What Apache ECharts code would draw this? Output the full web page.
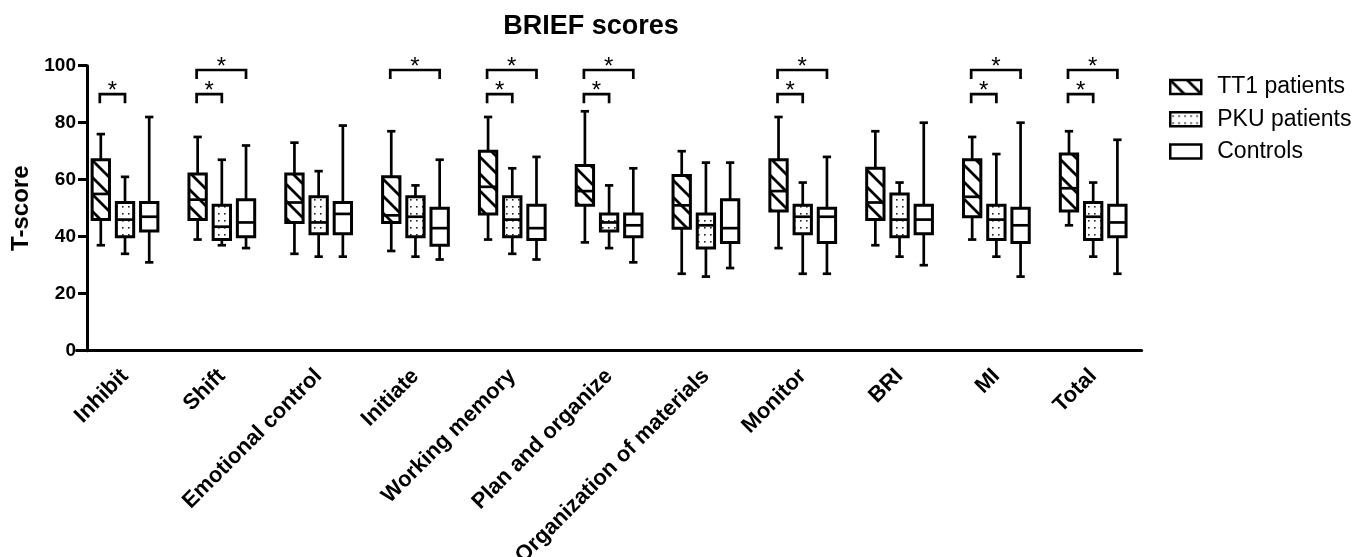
<!DOCTYPE html>
<html><head><meta charset="utf-8">
<script src="https://cdn.jsdelivr.net/npm/echarts@6/dist/echarts.min.js"></script>
<style>html,body{margin:0;padding:0;background:#fff}#c{width:1367px;height:557px}</style>
</head><body><div id="c"></div>
<script>
const categories = ['Inhibit','Shift','Emotional control','Initiate','Working memory','Plan and organize','Organization of materials','Monitor','BRI','MI','Total'];
const seriesNames = ['TT1 patients','PKU patients','Controls'];
// [min, Q1, median, Q3, max]
const tt1 = [[37,46,55,67,76],[39,46,53,62,75],[34,45,52,62,73],[35,45,47.5,61,77],[39,48,57.5,70,82],[38,51,56,65,84],[27,43,51,61.5,70],[36,49,56,67,82],[37,46,52,64,77],[39,47,54,67,75],[44,49,57,69,77]];
const pku = [[34,40,46,52,61],[37,39,43.5,51,67],[33,41,45,54,63],[33,40,47,54,58],[34,40,46,54,64],[36,42,45,48,58],[26,36,44,48,66],[27,41,47,51,59],[33,40,46,55,59],[33,39,46,51,69],[33,39,47,52,59]];
const controls = [[31,42,47,52,82],[36,40,45,53,72],[33,41,48,52,79],[32,37,43,50,67],[32,39,43,51,68],[31,40,44,48,64],[29,38,43,53,66],[27,38,47,50,68],[30,41,46,51,80],[26,38,44,50,80],[27,40,45,51,74]];
// significance brackets: [category index, from group, to group, level]
const brackets = [[0,0,1,0],[1,0,1,0],[1,0,2,1],[3,0,2,1],[4,0,1,0],[4,0,2,1],[5,0,1,0],[5,0,2,1],[7,0,1,0],[7,0,2,1],[9,0,1,0],[9,0,2,1],[10,0,1,0],[10,0,2,1]];
const bracketLevels = [90, 98.5];

const FONT = "'Liberation Sans', Arial, Helvetica, sans-serif";

function hatchPattern() {
  const s = 17, c = document.createElement('canvas');
  c.width = s; c.height = s;
  const g = c.getContext('2d');
  g.fillStyle = '#fff'; g.fillRect(0,0,s,s);
  g.strokeStyle = '#000'; g.lineWidth = 2.8;
  g.beginPath();
  g.moveTo(-3,-3); g.lineTo(s+3,s+3);
  g.moveTo(-3,s-3); g.lineTo(3,s+3);
  g.moveTo(s-3,-3); g.lineTo(s+3,3);
  g.stroke();
  return {image: c, repeat: 'repeat'};
}
function dotPattern() {
  const c = document.createElement('canvas');
  c.width = 6; c.height = 7;
  const g = c.getContext('2d');
  g.fillStyle = '#fff'; g.fillRect(0,0,6,7);
  g.fillStyle = '#222'; g.fillRect(2,3,1.6,1.6);
  return {image: c, repeat: 'repeat'};
}
const fills = [hatchPattern(), dotPattern(), '#fff'];

function boxSeries(name, data, gi) {
  return {
    type: 'custom', name: name,
    data: data.map((d, i) => [i].concat(d)),
    encode: {x: 0, y: [1,2,3,4,5]},
    itemStyle: {color: fills[gi], borderColor: '#000', borderWidth: 3},
    renderItem: function (params, api) {
      const cat = api.value(0);
      const band = api.size([1, 0])[0];
      const cx = api.coord([cat, 0])[0] + (gi - 1) * band * 0.25;
      const y = k => api.coord([cat, api.value(k)])[1];
      const yMin = y(1), yQ1 = y(2), yMed = y(3), yQ3 = y(4), yMax = y(5);
      const w = band * 0.179, cap = band * 0.086;
      const ls = {stroke: '#000', lineWidth: 2.7};
      return {type: 'group', children: [
        {type: 'line', shape: {x1: cx, y1: yQ3, x2: cx, y2: yMax}, style: ls},
        {type: 'line', shape: {x1: cx, y1: yQ1, x2: cx, y2: yMin}, style: ls},
        {type: 'line', shape: {x1: cx - cap/2, y1: yMax, x2: cx + cap/2, y2: yMax}, style: ls},
        {type: 'line', shape: {x1: cx - cap/2, y1: yMin, x2: cx + cap/2, y2: yMin}, style: ls},
        {type: 'rect', shape: {x: cx - w/2, y: yQ3, width: w, height: yQ1 - yQ3}, style: {fill: fills[gi], stroke: '#000', lineWidth: 3}},
        {type: 'line', shape: {x1: cx - w/2, y1: yMed, x2: cx + w/2, y2: yMed}, style: {stroke: '#000', lineWidth: 2.7}}
      ]};
    }
  };
}

const bracketSeries = {
  type: 'custom', name: 'sig', silent: true,
  data: brackets,
  encode: {x: 0},
  renderItem: function (params, api) {
    const cat = api.value(0), g1 = api.value(1), g2 = api.value(2), lv = api.value(3);
    const band = api.size([1, 0])[0];
    const p = api.coord([cat, bracketLevels[lv]]);
    const x1 = p[0] + (g1 - 1) * band * 0.25 - 1, x2 = p[0] + (g2 - 1) * band * 0.25;
    const yT = p[1];
    return {type: 'group', children: [
      {type: 'polyline', shape: {points: [[x1, yT + 9], [x1, yT], [x2, yT], [x2, yT + 9]]}, style: {stroke: '#000', fill: null, lineWidth: 2.7}},
      {type: 'text', style: {text: '*', x: (x1 + x2) / 2, y: yT - 3, align: 'center', verticalAlign: 'middle', fontSize: 24, fontFamily: FONT, fill: '#000'}}
    ]};
  }
};

const chart = echarts.init(document.getElementById('c'));
chart.setOption({
  backgroundColor: '#fff',
  animation: false,
  title: {text: 'BRIEF scores', left: 586, top: 8, textAlign: 'center',
    textStyle: {fontSize: 27, fontWeight: 'bold', color: '#000', fontFamily: FONT}},
  legend: {
    left: 1164, top: 70.5, orient: 'vertical', itemWidth: 31, itemHeight: 14, itemGap: 9.3,
    icon: 'rect', selectedMode: false,
    data: seriesNames.map((n, i) => ({name: n, itemStyle: {color: fills[i], borderColor: '#000', borderWidth: 2.5}})),
    formatter: n => '{t|' + n + '}',
    textStyle: {fontFamily: FONT, fontSize: 23, color: '#000',
      rich: {t: {fontFamily: FONT, fontSize: 23, lineHeight: 24, color: '#000', padding: [0, 0, 0, 11]}}}
  },
  grid: {left: 76.6, right: 225.4, top: 65.7, bottom: 206.3, containLabel: false, outerBoundsMode: 'none'},
  xAxis: {
    type: 'category', data: categories, boundaryGap: true,
    axisLine: {lineStyle: {color: '#000', width: 3}},
    axisTick: {alignWithLabel: true, length: 8, lineStyle: {color: '#000', width: 3}},
    axisLabel: {interval: 0, rotate: 45, margin: 22, color: '#000', fontSize: 22, fontWeight: 'bold', fontFamily: FONT},
    splitLine: {show: false}
  },
  yAxis: {
    type: 'value', min: 0, max: 100, interval: 20, offset: -10.4,
    name: 'T-score', nameLocation: 'middle', nameGap: 54,
    nameTextStyle: {fontSize: 24, fontWeight: 'bold', color: '#000', fontFamily: FONT},
    axisLine: {show: true, lineStyle: {color: '#000', width: 3}},
    axisTick: {show: true, length: 9, lineStyle: {color: '#000', width: 3}},
    axisLabel: {margin: 11, color: '#000', fontSize: 19, fontWeight: 'bold', fontFamily: FONT},
    splitLine: {show: false}
  },
  series: [boxSeries(seriesNames[0], tt1, 0), boxSeries(seriesNames[1], pku, 1), boxSeries(seriesNames[2], controls, 2), bracketSeries]
});
</script></body></html>
